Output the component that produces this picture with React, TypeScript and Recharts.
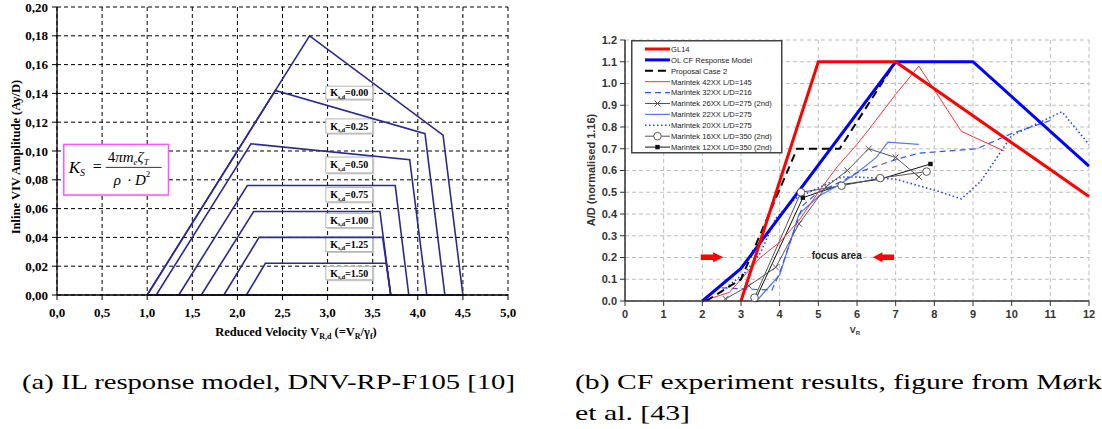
import React from 'react';
import { LineChart, Line, XAxis, YAxis, CartesianGrid, ReferenceArea } from 'recharts';

type P = [number, number];
const toPts = (a: P[]) => a.map(([x, y]) => ({ x, y }));

// ---------- (a) IL response model ----------
const ilXTicks = [0, 0.5, 1, 1.5, 2, 2.5, 3, 3.5, 4, 4.5, 5];
const ilYTicks = [0, 0.02, 0.04, 0.06, 0.08, 0.1, 0.12, 0.14, 0.16, 0.18, 0.2];
const ilK000: P[] = [[1.0, 0], [2.8, 0.18], [4.28, 0.111], [4.5, 0], [1.0, 0]];
const ilK025: P[] = [[1.0, 0], [2.42, 0.142], [4.08, 0.112], [4.3, 0]];
const ilK050: P[] = [[1.1, 0], [2.15, 0.105], [3.91, 0.094], [4.1, 0]];
const ilK075: P[] = [[1.35, 0], [2.11, 0.076], [3.75, 0.076], [3.9, 0]];
const ilK100: P[] = [[1.6, 0], [2.18, 0.058], [3.58, 0.058], [3.7, 0]];
const ilK125: P[] = [[1.85, 0], [2.24, 0.04], [3.61, 0.04], [3.7, 0]];
const ilK150: P[] = [[2.1, 0], [2.31, 0.022], [3.65, 0.022], [3.7, 0]];
const ilSeries = [ilK000, ilK025, ilK050, ilK075, ilK100, ilK125, ilK150];
const ilKLabels = ['0.00', '0.25', '0.50', '0.75', '1.00', '1.25', '1.50'];
const ilKLabelY: P[] = [[0.136, 0.145], [0.1124, 0.1223], [0.0848, 0.0958], [0.0647, 0.0747], [0.0468, 0.0567], [0.0302, 0.0401], [0.0106, 0.0198]];
const ilKLabelX: P = [2.98, 3.5];
const ilFormulaX: P = [0.075, 1.236];
const ilFormulaY: P = [0.0694, 0.1046];

// ---------- (b) CF experiment results ----------
const cfXTicks = [0, 1, 2, 3, 4, 5, 6, 7, 8, 9, 10, 11, 12];
const cfYTicks = [0, 0.1, 0.2, 0.3, 0.4, 0.5, 0.6, 0.7, 0.8, 0.9, 1.0, 1.1, 1.2];
const gl14: P[] = [[3, 0], [5, 1.1], [7, 1.1], [12, 0.48]];
const olCf: P[] = [[2, 0], [3, 0.15], [7, 1.1], [9, 1.1], [12, 0.62]];
const proposal2: P[] = [[2.1, 0], [3, 0.1], [4.45, 0.7], [5.55, 0.7], [7, 1.1]];
const m42: P[] = [[2.0, 0], [2.7, 0.04], [3.0, 0.1], [3.5, 0.2], [4.0, 0.27], [4.5, 0.37], [5.0, 0.5], [5.5, 0.62], [6.0, 0.72], [6.4, 0.81], [7.0, 0.95], [7.6, 1.08], [8.7, 0.78], [9.8, 0.69]];
const m32: P[] = [[2.5, 0.06], [3.8, 0.05], [4.0, 0.13], [4.6, 0.44], [5.0, 0.5], [5.6, 0.55], [6.0, 0.59], [7.0, 0.65], [7.6, 0.68], [9.1, 0.7], [10.0, 0.77], [11.0, 0.83]];
const m26: P[] = [[2.6, 0.01], [3.2, 0.07], [3.9, 0.155], [4.5, 0.355], [5.2, 0.525], [5.75, 0.6], [6.3, 0.7], [7.0, 0.66], [7.6, 0.57]];
const m22: P[] = [[3.4, 0.0], [4.0, 0.12], [4.5, 0.4], [5.0, 0.48], [5.5, 0.53], [6.0, 0.59], [6.5, 0.66], [6.8, 0.73], [7.6, 0.72]];
const m20: P[] = [[2.6, 0.06], [3.1, 0.13], [3.5, 0.22], [3.9, 0.38], [4.4, 0.47], [5.0, 0.52], [5.6, 0.57], [6.0, 0.57], [7.0, 0.56], [8.0, 0.51], [8.7, 0.47], [9.2, 0.55], [10.0, 0.76], [11.3, 0.87], [12.0, 0.72]];
const m16: P[] = [[3.35, 0.015], [4.55, 0.5], [5.6, 0.53], [6.6, 0.565], [7.8, 0.595]];
const m12: P[] = [[3.37, 0.005], [4.6, 0.475], [5.6, 0.535], [6.6, 0.56], [7.9, 0.63]];
const cfNames = ['GL14', 'OL CF Response Model', 'Proposal Case 2', 'Marintek 42XX L/D=145', 'Marintek 32XX L/D=216', 'Marintek 26XX L/D=275 (2nd)', 'Marintek 22XX L/D=275', 'Marintek 20XX L/D=275', 'Marintek 16XX L/D=350 (2nd)', 'Marintek 12XX L/D=350 (2nd)'];
const cfData = [gl14, olCf, proposal2, m42, m32, m26, m22, m20, m16, m12];
const arrowRightX: P = [1.96, 2.54];
const arrowLeftX: P = [6.41, 6.96];
const arrowY: P = [0.178, 0.224];
const focusX: P = [4.8, 6.15];
const focusY: P = [0.18, 0.24];

type Style = { color: string; width: number; dash?: string; marker?: 'x' | 'circle' | 'square' };
const cfStyles: Style[] = [
  { color: '#ff0000', width: 3 },
  { color: '#0000ff', width: 3 },
  { color: '#000000', width: 2, dash: '8 5' },
  { color: '#ff3030', width: 1 },
  { color: '#3355ff', width: 1.2, dash: '6 4' },
  { color: '#555555', width: 1, marker: 'x' },
  { color: '#5577ff', width: 1.2 },
  { color: '#2244ff', width: 1.6, dash: '1.5 2.5' },
  { color: '#555555', width: 1, marker: 'circle' },
  { color: '#111111', width: 1, marker: 'square' },
];

const SERIF = "'Liberation Serif', 'Times New Roman', serif";
const SANS = "'Liberation Sans', Arial, sans-serif";
const NAVY = '#2a2a92';

const markerEl = (m: string | undefined, cx: number, cy: number, color: string, key?: any) => {
  if (m === 'x')
    return <path key={key} d={`M${cx - 3},${cy - 3}L${cx + 3},${cy + 3}M${cx - 3},${cy + 3}L${cx + 3},${cy - 3}`} stroke={color} strokeWidth={1} fill="none" />;
  if (m === 'circle') return <circle key={key} cx={cx} cy={cy} r={3.8} fill="#fff" stroke={color} strokeWidth={1} />;
  if (m === 'square') return <rect key={key} x={cx - 2.2} y={cy - 2.2} width={4.4} height={4.4} fill={color} />;
  return <g key={key} />;
};

const KBox = (label: string) => (p: any) => {
  const { x, y, width, height } = p;
  return (
    <g>
      <rect x={x + 1.5} y={y + 1.5} width={width} height={height} fill="#c8c8c8" />
      <rect x={x} y={y} width={width} height={height} fill="#fff" stroke="#b5b5b5" strokeWidth={1} />
      <text x={x + width / 2} y={y + height / 2 + 3.5} textAnchor="middle" fontFamily={SERIF} fontWeight="bold" fontSize={10} fill="#000">
        K<tspan fontSize={6} dy={2.5}>s,d</tspan><tspan dy={-2.5}>={label}</tspan>
      </text>
    </g>
  );
};

const FormulaBox = (p: any) => {
  const { x, y, width, height } = p;
  return (
    <g fontFamily={SERIF} fill="#000">
      <rect x={x} y={y} width={width} height={height} fill="#fff" stroke="#ff55ff" strokeWidth={1.5} />
      <text x={x + 5} y={y + 29} fontStyle="italic" fontSize={17}>K<tspan fontSize={10} dy={3}>S</tspan></text>
      <text x={x + 29} y={y + 28} fontSize={16}>=</text>
      <text x={x + 44} y={y + 18} fontStyle="italic" fontSize={15}>
        <tspan fontStyle="normal">4</tspan>πm<tspan fontSize={9} dy={3}>e</tspan><tspan dy={-3}>ζ</tspan><tspan fontSize={9} dy={3}>T</tspan>
      </text>
      <line x1={x + 42} x2={x + 98} y1={y + 23} y2={y + 23} stroke="#000" strokeWidth={0.8} />
      <text x={x + 50} y={y + 41} fontStyle="italic" fontSize={15}>
        ρ<tspan fontStyle="normal" dx={6}>·</tspan><tspan dx={3}>D</tspan><tspan fontSize={9} dy={-8} fontStyle="normal">2</tspan>
      </text>
    </g>
  );
};

const Arrow = (dir: 'r' | 'l') => (p: any) => {
  const { x, y, width: w, height: h } = p;
  const by1 = y + h * 0.22, by2 = y + h * 0.78;
  const pts = dir === 'r'
    ? [[x, by1], [x + w * 0.55, by1], [x + w * 0.55, y], [x + w, y + h / 2], [x + w * 0.55, y + h], [x + w * 0.55, by2], [x, by2]]
    : [[x + w, by1], [x + w * 0.45, by1], [x + w * 0.45, y], [x, y + h / 2], [x + w * 0.45, y + h], [x + w * 0.45, by2], [x + w, by2]];
  return <polygon points={pts.map((q) => q.join(',')).join(' ')} fill="#ff0000" />;
};

const FocusText = (p: any) => {
  const { x, y, width, height } = p;
  return (
    <text x={x + width / 2} y={y + height / 2 + 3.5} textAnchor="middle" fontFamily={SANS} fontWeight="bold" fontSize={10} fill="#222">
      focus area
    </text>
  );
};

const Legend = () => (
  <svg width={152} height={114} style={{ position: 'absolute', left: 631, top: 40 }}>
    <rect x={0.75} y={0.75} width={150} height={112} fill="#fff" stroke="#444" strokeWidth={1.5} />
    {cfNames.map((n, i) => {
      const s = cfStyles[i];
      const yy = 9 + i * 10.9;
      return (
        <g key={n}>
          <line x1={14} x2={39} y1={yy} y2={yy} stroke={s.color} strokeWidth={s.width} strokeDasharray={s.dash} />
          {markerEl(s.marker, 26.5, yy, s.color)}
          <text x={40} y={yy + 2.8} fontFamily={SANS} fontSize={7.6} fill="#222">{n}</text>
        </g>
      );
    })}
  </svg>
);

export default function App() {
  return (
    <div style={{ position: 'relative', width: 1102, height: 429, background: '#fff', overflow: 'hidden' }}>
      <style>{`body{margin:0}`}</style>
      {/* ---------- left chart ---------- */}
      <div style={{ position: 'absolute', left: 0, top: 0 }}>
        <LineChart width={530} height={345} margin={{ top: 7, right: 22, bottom: 20, left: 0 }}>
          <CartesianGrid stroke="#000" strokeDasharray="4 3" strokeWidth={1} />
          <XAxis type="number" dataKey="x" domain={[0, 5]} ticks={ilXTicks} height={30} interval={0}
            tickFormatter={(v: number) => v.toFixed(1).replace('.', ',')}
            tick={{ fontFamily: SERIF, fontWeight: 'bold', fontSize: 13, fill: '#000' }}
            axisLine={{ stroke: '#000', strokeWidth: 1.3 }} tickLine={{ stroke: '#000' }} tickSize={5} tickMargin={8} />
          <YAxis type="number" dataKey="y" domain={[0, 0.2]} ticks={ilYTicks} width={57} interval={0}
            tickFormatter={(v: number) => v.toFixed(2).replace('.', ',')}
            tick={{ fontFamily: SERIF, fontWeight: 'bold', fontSize: 13, fill: '#000' }}
            axisLine={{ stroke: '#000', strokeWidth: 1.3 }} tickLine={{ stroke: '#000' }} tickSize={5} tickMargin={4} />
          {ilSeries.map((s, i) => (
            <Line key={i} data={toPts(s)} dataKey="y" type="linear" stroke={NAVY} strokeWidth={1.6} dot={false} isAnimationActive={false} />
          ))}
          {ilKLabels.map((l, i) => (
            <ReferenceArea key={l} x1={ilKLabelX[0]} x2={ilKLabelX[1]} y1={ilKLabelY[i][0]} y2={ilKLabelY[i][1]} shape={KBox(l)} />
          ))}
          <ReferenceArea x1={ilFormulaX[0]} x2={ilFormulaX[1]} y1={ilFormulaY[0]} y2={ilFormulaY[1]} shape={FormulaBox} />
        </LineChart>
      </div>

      {/* ---------- right chart ---------- */}
      <div style={{ position: 'absolute', left: 560, top: 0 }}>
        <LineChart width={542} height={345} margin={{ top: 40, right: 13, bottom: 14, left: 0 }}>
          <CartesianGrid stroke="#bdbdbd" strokeDasharray="4 3" strokeWidth={1} />
          <XAxis type="number" dataKey="x" domain={[0, 12]} ticks={cfXTicks} height={30} interval={0}
            tick={{ fontFamily: SANS, fontWeight: 'bold', fontSize: 11, fill: '#333' }}
            axisLine={{ stroke: '#333', strokeWidth: 1.5 }} tickLine={{ stroke: '#333' }} tickSize={5} tickMargin={4} />
          <YAxis type="number" dataKey="y" domain={[0, 1.2]} ticks={cfYTicks} width={65} interval={0}
            tickFormatter={(v: number) => v.toFixed(1)}
            tick={{ fontFamily: SANS, fontWeight: 'bold', fontSize: 11, fill: '#333' }}
            axisLine={{ stroke: '#333', strokeWidth: 1.5 }} tickLine={{ stroke: '#333' }} tickSize={5} tickMargin={3} />
          {cfData.map((d, i) => {
            const s = cfStyles[i];
            return (
              <Line key={cfNames[i]} data={toPts(d)} dataKey="y" type="linear" stroke={s.color} strokeWidth={s.width}
                strokeDasharray={s.dash} isAnimationActive={false}
                dot={s.marker ? (p: any) => markerEl(s.marker, p.cx, p.cy, s.color, p.key ?? `${i}-${p.index}`) : false} />
            );
          }).reverse()}
          <ReferenceArea x1={arrowRightX[0]} x2={arrowRightX[1]} y1={arrowY[0]} y2={arrowY[1]} shape={Arrow('r')} />
          <ReferenceArea x1={arrowLeftX[0]} x2={arrowLeftX[1]} y1={arrowY[0]} y2={arrowY[1]} shape={Arrow('l')} />
          <ReferenceArea x1={focusX[0]} x2={focusX[1]} y1={focusY[0]} y2={focusY[1]} shape={FocusText} />
        </LineChart>
      </div>
      <Legend />

      {/* ---------- axis titles & captions ---------- */}
      <svg width={1102} height={429} style={{ position: 'absolute', left: 0, top: 0, pointerEvents: 'none' }}>
        <text transform="translate(20,157) rotate(-90)" textAnchor="middle" fontFamily={SERIF} fontWeight="bold" fontSize={12.5} fill="#000">
          Inline VIV Amplitude (Ay/D)
        </text>
        <text x={296} y={336} textAnchor="middle" fontFamily={SERIF} fontWeight="bold" fontSize={12.5} fill="#000">
          Reduced Velocity V<tspan fontSize={8} dy={3}>R,d</tspan><tspan dy={-3}> (=V</tspan><tspan fontSize={8} dy={3}>R</tspan><tspan dy={-3}>/γ</tspan><tspan fontSize={8} dy={3}>f</tspan><tspan dy={-3}>)</tspan>
        </text>
        <text transform="translate(595,170) rotate(-90)" textAnchor="middle" fontFamily={SANS} fontWeight="bold" fontSize={11} fill="#333">
          A/D (normalised 1.16)
        </text>
        <text x={855} y={333} textAnchor="middle" fontFamily={SANS} fontWeight="bold" fontSize={9} fill="#333">
          V<tspan fontSize={6} dy={2}>R</tspan>
        </text>
        <text x={22} y={389} fontFamily={SERIF} fontSize={22} fill="#000" textLength={493} lengthAdjust="spacingAndGlyphs">
          (a) IL response model, DNV-RP-F105 [10]
        </text>
        <text x={575} y={389} fontFamily={SERIF} fontSize={22} fill="#000" textLength={527} lengthAdjust="spacingAndGlyphs">
          (b) CF experiment results, figure from Mørk
        </text>
        <text x={575} y={420} fontFamily={SERIF} fontSize={22} fill="#000" textLength={115} lengthAdjust="spacingAndGlyphs">
          et al. [43]
        </text>
      </svg>
    </div>
  );
}
